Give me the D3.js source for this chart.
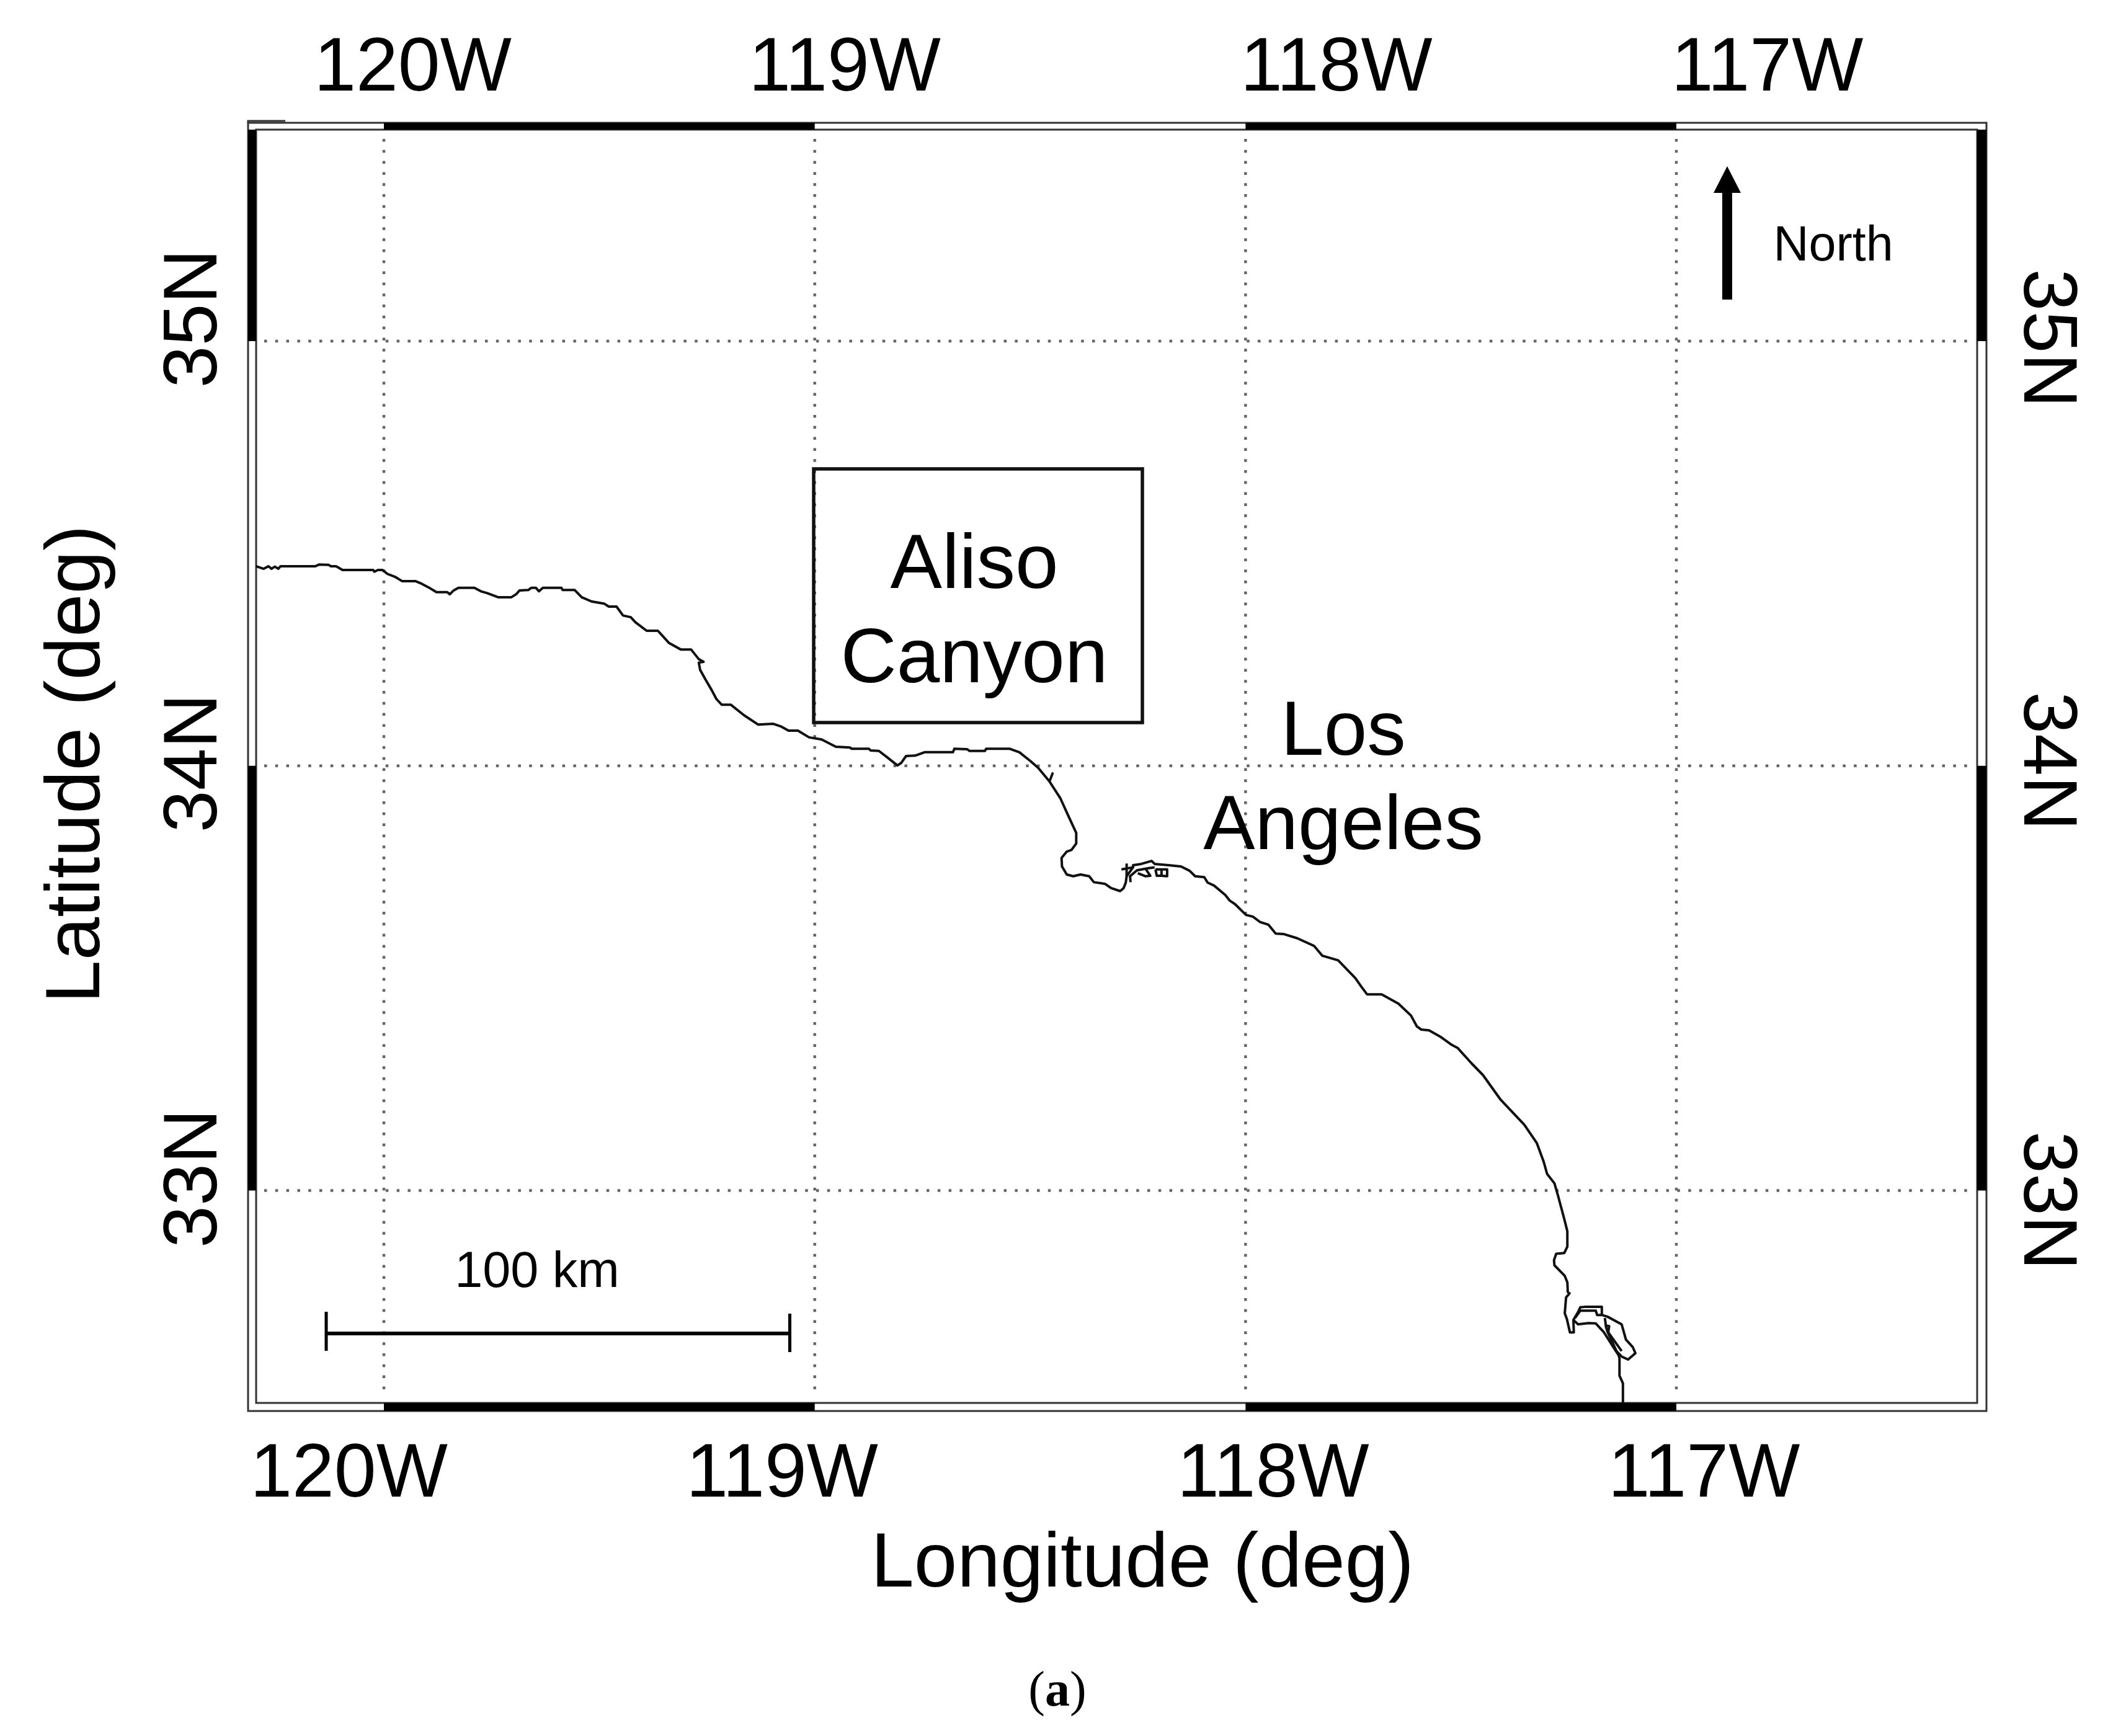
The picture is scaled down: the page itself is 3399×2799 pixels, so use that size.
<!DOCTYPE html>
<html><head><meta charset="utf-8">
<script src="https://cdn.jsdelivr.net/npm/d3@7"></script>
<style>html,body{margin:0;padding:0;background:#fff}svg{display:block}text{font-family:"Liberation Sans",Arial,sans-serif;fill:#000}</style>
</head><body><div id="chart"></div>
<script>
// ---- data (degrees) ----
const lonTicks = [-120,-119,-118,-117];
const latTicks = [35,34,33];
const lonLabels = ["120W","119W","118W","117W"];
const latLabels = ["35N","34N","33N"];
const lonBands = [[-120,-119],[-118,-117]];
const latBands = [[35.498,35],[34,33]];
const mainLon = [-120.297,-120.279,-120.268,-120.261,-120.253,-120.245,-120.240,-120.159,-120.150,-120.128,-120.123,-120.111,-120.096,-120.025,-120.022,-120.014,-120.003,-119.992,-119.974,-119.958,-119.927,-119.915,-119.896,-119.878,-119.853,-119.847,-119.838,-119.827,-119.790,-119.775,-119.761,-119.735,-119.704,-119.693,-119.685,-119.665,-119.658,-119.647,-119.640,-119.631,-119.588,-119.585,-119.557,-119.541,-119.518,-119.489,-119.478,-119.460,-119.445,-119.427,-119.416,-119.390,-119.364,-119.338,-119.311,-119.287,-119.269,-119.258,-119.269,-119.266,-119.254,-119.239,-119.228,-119.216,-119.195,-119.164,-119.131,-119.097,-119.079,-119.061,-119.039,-119.013,-118.984,-118.951,-118.918,-118.914,-118.874,-118.870,-118.851,-118.833,-118.808,-118.799,-118.788,-118.767,-118.745,-118.679,-118.676,-118.646,-118.641,-118.605,-118.602,-118.547,-118.525,-118.499,-118.481,-118.455,-118.448,-118.455,-118.430,-118.413,-118.393,-118.393,-118.404,-118.415,-118.427,-118.426,-118.415,-118.400,-118.383,-118.363,-118.352,-118.326,-118.312,-118.291,-118.283,-118.278,-118.276,-118.261,-118.261,-118.242,-118.218,-118.211,-118.178,-118.150,-118.130,-118.117,-118.096,-118.088,-118.073,-118.047,-118.037,-118.024,-117.999,-117.983,-117.966,-117.947,-117.930,-117.912,-117.880,-117.841,-117.822,-117.785,-117.745,-117.732,-117.718,-117.684,-117.645,-117.616,-117.602,-117.592,-117.574,-117.546,-117.523,-117.508,-117.475,-117.449,-117.408,-117.353,-117.324,-117.308,-117.300,-117.283,-117.275,-117.261,-117.253,-117.253,-117.260,-117.279,-117.284,-117.283,-117.259,-117.253,-117.252,-117.248,-117.256,-117.259,-117.254,-117.247,-117.238,-117.239,-117.228,-117.204,-117.187,-117.168,-117.148,-117.134,-117.132,-117.132,-117.124,-117.124];
const mainLat = [34.470,34.464,34.470,34.464,34.469,34.464,34.470,34.470,34.474,34.473,34.470,34.470,34.461,34.461,34.457,34.461,34.461,34.452,34.445,34.435,34.435,34.430,34.420,34.409,34.409,34.404,34.413,34.419,34.419,34.411,34.407,34.397,34.397,34.404,34.413,34.414,34.419,34.419,34.411,34.419,34.419,34.414,34.414,34.397,34.387,34.382,34.375,34.375,34.354,34.350,34.338,34.318,34.318,34.289,34.274,34.274,34.251,34.245,34.243,34.226,34.204,34.178,34.157,34.144,34.144,34.119,34.097,34.099,34.093,34.083,34.083,34.067,34.062,34.045,34.043,34.040,34.040,34.036,34.035,34.021,34.001,34.007,34.023,34.024,34.032,34.032,34.040,34.039,34.035,34.035,34.040,34.040,34.032,34.011,33.995,33.963,33.982,33.963,33.924,33.886,33.842,33.817,33.802,33.798,33.783,33.763,33.744,33.740,33.744,33.740,33.726,33.722,33.712,33.705,33.712,33.725,33.740,33.761,33.766,33.769,33.776,33.769,33.766,33.763,33.753,33.740,33.738,33.725,33.718,33.696,33.683,33.674,33.649,33.645,33.632,33.626,33.605,33.604,33.594,33.576,33.553,33.542,33.500,33.481,33.462,33.462,33.440,33.412,33.386,33.379,33.377,33.361,33.344,33.336,33.299,33.272,33.214,33.155,33.112,33.068,33.039,33.017,32.989,32.936,32.904,32.868,32.853,32.851,32.836,32.824,32.799,32.784,32.761,32.758,32.748,32.711,32.697,32.666,32.666,32.695,32.685,32.688,32.687,32.666,32.634,32.612,32.605,32.564,32.546,32.500];
const bayLon = [-117.239,-117.228,-117.223,-117.213,-117.173,-117.173,-117.160,-117.127,-117.117,-117.101,-117.095,-117.112,-117.127,-117.139,-117.160,-117.163,-117.166];
const bayLat = [32.695,32.714,32.725,32.726,32.726,32.707,32.703,32.685,32.649,32.631,32.617,32.602,32.609,32.622,32.668,32.678,32.700];
const bayInnerLon = [-117.235,-117.223,-117.187,-117.184,-117.173];
const bayInnerLat = [32.700,32.717,32.717,32.707,32.707];
const strandLon = [-117.166,-117.156,-117.158,-117.127];
const strandLat = [32.682,32.681,32.666,32.622];
const spikeLon = [-118.276,-118.276];
const spikeLat = [33.770,33.740];
const breakwaterLon = [-118.288,-118.261];
const breakwaterLat = [33.756,33.761];
const channelLon = [-118.267,-118.268,-118.252,-118.225,-118.211];
const channelLat = [33.726,33.740,33.754,33.759,33.761];
const basinLon = [-118.209,-118.195,-118.195,-118.195,-118.182,-118.182,-118.195,-118.206,-118.209];
const basinLat = [33.756,33.756,33.741,33.756,33.756,33.740,33.741,33.741,33.756];
const slipLon = [-118.250,-118.232,-118.221,-118.231];
const slipLat = [33.747,33.740,33.741,33.756];
const coastSegments = [[mainLon,mainLat],[bayLon,bayLat],[bayInnerLon,bayInnerLat],[strandLon,strandLat],[spikeLon,spikeLat],[breakwaterLon,breakwaterLat],[channelLon,channelLat],[basinLon,basinLat],[slipLon,slipLat]];

// ---- layout ----
const W=3399,H=2799;
const frame={ol:400,or:3203,ot:198,ob:2275,il:413,ir:3188,it:209,ib:2262};
const x=d3.scaleLinear().domain([-120,-117]).range([619,2703]);
const y=d3.scaleLinear().domain([35,33]).range([550,1919.5]);
const FS=122;
const svg=d3.select("#chart").append("svg").attr("width",W).attr("height",H).attr("viewBox",`0 0 ${W} ${H}`);
svg.append("rect").attr("width",W).attr("height",H).attr("fill","#fff");

// gridlines
const gridStyle=s=>s.attr("stroke","#666").attr("stroke-width",4.5).attr("stroke-dasharray","4.5,13.3").attr("fill","none");
svg.append("g").selectAll("line").data(lonTicks).join("line")
  .attr("x1",d=>x(d)).attr("x2",d=>x(d)).attr("y1",224).attr("y2",2250).call(gridStyle);
svg.append("g").selectAll("line").data(latTicks).join("line")
  .attr("y1",d=>y(d)).attr("y2",d=>y(d)).attr("x1",426).attr("x2",3182).call(gridStyle);

// frame
const fr=svg.append("g").attr("fill","none").attr("stroke","#333").attr("stroke-width",3);
fr.append("rect").attr("x",frame.ol).attr("y",frame.ot).attr("width",frame.or-frame.ol).attr("height",frame.ob-frame.ot);
fr.append("rect").attr("x",frame.il).attr("y",frame.it).attr("width",frame.ir-frame.il).attr("height",frame.ib-frame.it);
fr.append("path").attr("d",`M${frame.ol},${frame.ot}V195H460`);
// alternating bands
const bands=svg.append("g").attr("fill","#000");
bands.selectAll(".t").data(lonBands).join("rect").attr("class","t").attr("x",d=>x(d[0])).attr("width",d=>x(d[1])-x(d[0])).attr("y",frame.ot).attr("height",frame.it-frame.ot);
bands.selectAll(".b").data(lonBands).join("rect").attr("class","b").attr("x",d=>x(d[0])).attr("width",d=>x(d[1])-x(d[0])).attr("y",frame.ib).attr("height",frame.ob-frame.ib);
bands.selectAll(".l").data(latBands).join("rect").attr("class","l").attr("y",d=>y(d[0])).attr("height",d=>y(d[1])-y(d[0])).attr("x",frame.ol).attr("width",frame.il-frame.ol);
bands.selectAll(".r").data(latBands).join("rect").attr("class","r").attr("y",d=>y(d[0])).attr("height",d=>y(d[1])-y(d[0])).attr("x",frame.ir).attr("width",frame.or-frame.ir);

// coastline
const line=d3.line().x(d=>x(d[0])).y(d=>y(d[1]));
svg.append("g").selectAll("path").data(coastSegments.map(([a,b])=>a.map((v,i)=>[v,b[i]]))).join("path")
  .attr("d",line).attr("fill","none").attr("stroke","#111").attr("stroke-width",4).attr("stroke-linejoin","round");

// axes (labels offset from their ticks, as in the original figure)
function styleAxis(g,fn){
  g.select(".domain").remove(); g.selectAll(".tick line").remove();
  g.selectAll(".tick text").attr("font-size",FS).attr("font-family","'Liberation Sans',Arial,sans-serif").each(fn);
}
const lonFmt=(d)=>lonLabels[lonTicks.indexOf(d)], latFmt=(d)=>latLabels[latTicks.indexOf(d)];
const topOff=[46,48,146,146], botOff=[-57,-53,44,44], leftOff=[-37,-5,-20], rightOff=[-5,-8,16];
svg.append("g").attr("transform","translate(0,146)").call(d3.axisTop(x).tickValues(lonTicks).tickFormat(lonFmt).tickSize(0).tickPadding(0))
  .call(g=>styleAxis(g,function(d,i){d3.select(this).attr("x",topOff[i]).attr("y",0).attr("dy",0).attr("text-anchor","middle");}));
svg.append("g").attr("transform","translate(0,2413)").call(d3.axisBottom(x).tickValues(lonTicks).tickFormat(lonFmt).tickSize(0).tickPadding(0))
  .call(g=>styleAxis(g,function(d,i){d3.select(this).attr("x",botOff[i]).attr("y",0).attr("dy",0).attr("text-anchor","middle");}));
svg.append("g").attr("transform","translate(349,0)").call(d3.axisLeft(y).tickValues(latTicks).tickFormat(latFmt).tickSize(0).tickPadding(0))
  .call(g=>styleAxis(g,function(d,i){d3.select(this).attr("x",0).attr("y",0).attr("dy",0).attr("text-anchor","middle").attr("transform",`translate(0,${leftOff[i]}) rotate(-90)`);}));
svg.append("g").attr("transform","translate(3264,0)").call(d3.axisRight(y).tickValues(latTicks).tickFormat(latFmt).tickSize(0).tickPadding(0))
  .call(g=>styleAxis(g,function(d,i){d3.select(this).attr("x",0).attr("y",0).attr("dy",0).attr("text-anchor","middle").attr("transform",`translate(0,${rightOff[i]}) rotate(90)`);}));

// titles and annotations
const txt=(s,px,py,fs,opt={})=>{const t=svg.append("text").text(s).attr("x",px).attr("y",py).attr("font-size",fs).attr("text-anchor",opt.anchor||"middle");
  if(opt.rotate!==undefined)t.attr("transform",`rotate(${opt.rotate},${px},${py})`); return t;};
txt("Longitude (deg)",1842,2558,125);
txt("Latitude (deg)",160,1232,125,{rotate:-90});
svg.append("rect").attr("x",1312).attr("y",756).attr("width",530).attr("height",409).attr("fill","none").attr("stroke","#111").attr("stroke-width",5.5);
txt("Aliso",1571,948,125);
txt("Canyon",1571,1100,125);
txt("Los",2166,1217,125);
txt("Angeles",2166,1369,125);
txt("100 km",866,2075,81);
txt("North",2956,420,79);
// (a)
const cap=svg.append("text").attr("x",1705).attr("y",2750).attr("font-size",80).attr("text-anchor","middle").style("font-family","'Liberation Serif',serif");
cap.append("tspan").text("(");cap.append("tspan").text("a").attr("font-weight","bold");cap.append("tspan").text(")");

// scale bar
const sb=svg.append("g").attr("stroke","#000").attr("fill","none");
sb.append("line").attr("x1",526).attr("x2",1273.5).attr("y1",2150).attr("y2",2150).attr("stroke-width",6);
sb.append("line").attr("x1",526).attr("x2",526).attr("y1",2115).attr("y2",2178).attr("stroke-width",5);
sb.append("line").attr("x1",1273.5).attr("x2",1273.5).attr("y1",2118).attr("y2",2180).attr("stroke-width",5);
// north arrow
svg.append("path").attr("d","M2785,268L2807,311H2793V483H2777V311H2763Z").attr("fill","#000");
</script></body></html>
